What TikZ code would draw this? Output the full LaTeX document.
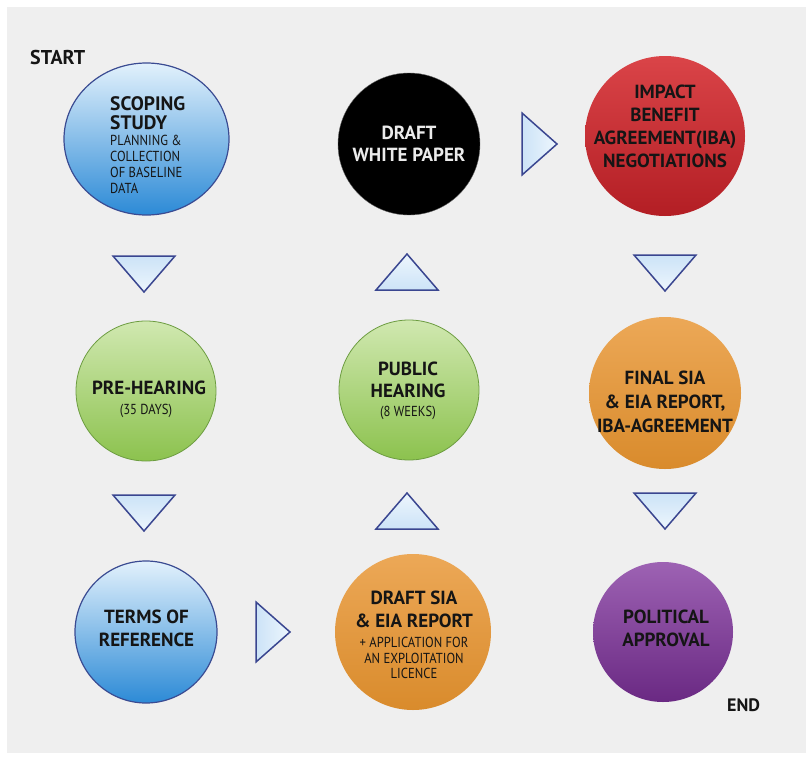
\documentclass[tikz,border=0pt]{standalone}
\usepackage{fontspec}
\setmainfont{PT Sans}
\newfontfamily\narrowfont[FakeStretch=0.87]{PT Sans}
\usetikzlibrary{shapes.geometric}
\definecolor{bg}{HTML}{EFEFEF}
\definecolor{bluetop}{HTML}{E2F1FC}
\definecolor{bluemid}{HTML}{9CCBEF}
\definecolor{bluebot}{HTML}{2C8AD6}
\definecolor{blueline}{HTML}{3A4B92}
\definecolor{greentop}{HTML}{D0E8B0}
\definecolor{greenmid}{HTML}{ACD67C}
\definecolor{greenbot}{HTML}{8CC24E}
\definecolor{greenline}{HTML}{6C9C40}
\definecolor{redtop}{HTML}{DA4448}
\definecolor{redbot}{HTML}{B31E24}
\definecolor{orangetop}{HTML}{ECA857}
\definecolor{orangebot}{HTML}{D98B2C}
\definecolor{purpletop}{HTML}{9D62B3}
\definecolor{purplebot}{HTML}{6A2983}
\definecolor{tritop}{HTML}{CCE3F7}
\definecolor{tribot}{HTML}{EDF6FD}
\definecolor{triline}{HTML}{3A4690}
\definecolor{txt}{HTML}{151515}
\tikzset{
  bubble/.style={circle, inner sep=0pt},
  bluebubble/.style={bubble, draw=blueline, line width=1.2pt, top color=bluetop, middle color=bluemid, bottom color=bluebot},
  greenbubble/.style={bubble, draw=greenline, line width=0.8pt, top color=greentop, middle color=greenmid, bottom color=greenbot},
  orangebubble/.style={bubble, top color=orangetop, bottom color=orangebot},
  redbubble/.style={bubble, top color=redtop, bottom color=redbot},
  purplebubble/.style={bubble, top color=purpletop, bottom color=purplebot},
  tri/.style={draw=triline, line width=1.5pt, line join=miter},
  tridown/.style={tri, top color=tritop, bottom color=tribot},
  triup/.style={tri, top color=tribot, bottom color=tritop},
  triright/.style={tri, left color=tritop, right color=tribot},
  lbl/.style={inner sep=0pt, align=center, anchor=north, text=txt, font=\bfseries\fontsize{19}{23}\selectfont},
  small/.style={inner sep=0pt, align=center, anchor=north, text=txt, font=\mdseries\narrowfont\fontsize{14.5}{16}\selectfont},
  tag/.style={inner sep=0pt, anchor=north west, text=txt, font=\bfseries\fontsize{19}{23}\selectfont}
}
\begin{document}
\begin{tikzpicture}[x=1pt,y=-1pt]
\useasboundingbox (0,0) rectangle (806,758);
\fill[white] (0,0) rectangle (806,758);
\fill[bg] (7,7) rectangle (806,753);

% circles
\node[ellipse, inner sep=0pt, draw=blueline, line width=1.2pt, top color=bluetop, middle color=bluemid, bottom color=bluebot, minimum width=165pt, minimum height=152pt] (scoping) at (146.5,139) {};
\node[bubble, fill=black, draw=black!60, line width=0.4pt, minimum size=142pt] (white) at (409,144) {};
\node[redbubble, minimum size=160pt] (iba) at (665,136) {};
\node[greenbubble, minimum size=140pt] (pre) at (146,391) {};
\node[greenbubble, minimum size=140pt] (public) at (409,390) {};
\node[orangebubble, minimum size=152pt] (final) at (665,393) {};
\node[bluebubble, minimum size=142pt] (terms) at (146,632) {};
\node[orangebubble, minimum size=156pt] (draftsia) at (413,632) {};
\node[purplebubble, minimum size=140pt] (political) at (663,632) {};

% triangles
\draw[tridown] (113,256) -- (175,256) -- (144,292) -- cycle;
\draw[tridown] (113,495) -- (175,495) -- (144,531) -- cycle;
\draw[triright] (256,602) -- (290,632) -- (256,662) -- cycle;
\draw[triup] (376,529) -- (438,529) -- (407,493) -- cycle;
\draw[triup] (376,290) -- (438,290) -- (407,254) -- cycle;
\draw[triright] (522,113) -- (557,144) -- (522,175) -- cycle;
\draw[tridown] (634,255) -- (696,255) -- (665,291) -- cycle;
\draw[tridown] (634,493) -- (696,493) -- (665,529) -- cycle;

% texts
\node[tag, font=\bfseries\fontsize{20}{23}\selectfont] (start) at (30,50) {START};
\node[tag, font=\bfseries\fontsize{18}{23}\selectfont] (end) at (727,699) {END};

\node[inner sep=0pt, anchor=north west, align=left, text=txt, font=\bfseries\fontsize{19.5}{19.5}\selectfont] (tscoping) at (110,96) {SCOPING\\STUDY};
\node[small, anchor=north west, align=left] (tscopingsub) at (110,135) {PLANNING \&\\COLLECTION\\OF BASELINE\\DATA};
\node[lbl, text=white!92!black, font=\bfseries\fontsize{19}{22}\selectfont] (twhite) at (409,126) {DRAFT\\WHITE PAPER};
\node[lbl] (tiba) at (665,85) {IMPACT\\BENEFIT\\AGREEMENT(IBA)\\NEGOTIATIONS};
\node[lbl] (tpre) at (149,381) {PRE-HEARING};
\node[small] (tpresub) at (146,404) {(35 DAYS)};
\node[lbl, font=\bfseries\fontsize{19}{22}\selectfont] (tpublic) at (408,362) {PUBLIC\\HEARING};
\node[small] (tpublicsub) at (408,406) {(8 WEEKS)};
\node[lbl, font=\bfseries\fontsize{19}{24}\selectfont] (tfinal) at (665,371) {FINAL SIA\\\&{} EIA REPORT,\\IBA-AGREEMENT};
\node[lbl] (tterms) at (146.5,610) {TERMS OF\\REFERENCE};
\node[lbl, font=\bfseries\fontsize{19}{23}\selectfont] (tpolitical) at (666,610) {POLITICAL\\APPROVAL};
\node[lbl] (tdraftsia) at (414,591) {DRAFT SIA\\\&{} EIA REPORT};
\node[small, font=\mdseries\narrowfont\fontsize{14.5}{15.5}\selectfont] (tdraftsiasub) at (414,637) {+ APPLICATION FOR\\AN EXPLOITATION\\LICENCE};
\end{tikzpicture}
\end{document}
